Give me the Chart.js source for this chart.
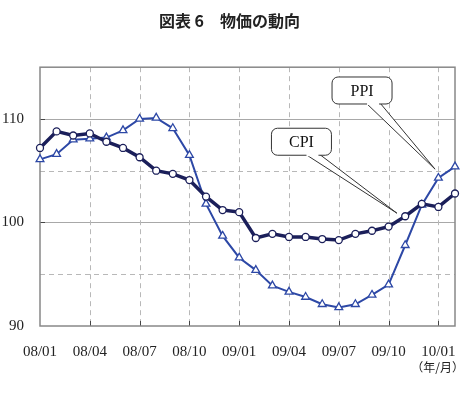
<!DOCTYPE html>
<html>
<head>
<meta charset="utf-8">
<script src="https://cdn.jsdelivr.net/npm/chart.js@4/dist/chart.umd.min.js"></script>
<style>
  html, body { margin: 0; padding: 0; background: #fff; }
  #wrap { width: 472px; height: 401px; }
</style>
</head>
<body>
<div id="wrap"><canvas id="chart1" width="472" height="401"></canvas></div>
<script>
        // months 08/01 .. 10/02
        const months = ['08/01', '08/02', '08/03', '08/04', '08/05', '08/06', '08/07', '08/08', '08/09', '08/10', '08/11', '08/12',
                        '09/01', '09/02', '09/03', '09/04', '09/05', '09/06', '09/07', '09/08', '09/09', '09/10', '09/11', '09/12',
                        '10/01', '10/02'];
        const cpiValues = [107.2, 108.8, 108.4, 108.6, 107.8, 107.2, 106.3, 105.0, 104.7, 104.1, 102.5, 101.2,
                           101.0, 98.5, 98.9, 98.6, 98.6, 98.4, 98.3, 98.9, 99.2, 99.6, 100.6, 101.8,
                           101.5, 102.8];
        const ppiValues = [106.1, 106.6, 108.0, 108.1, 108.2, 108.9, 110.0, 110.1, 109.1, 106.5, 101.8, 98.7,
                           96.6, 95.4, 93.9, 93.3, 92.8, 92.1, 91.8, 92.1, 93.0, 94.0, 97.8, 101.7,
                           104.3, 105.4];
        const yTickLabels = [90, 100, 110];
        const seriesNames = ['CPI', 'PPI'];

        const serif = "'Liberation Serif', 'DejaVu Serif', serif";
        const cjk = "'Noto Sans CJK JP', sans-serif";

        // callouts: box centre and pointer tip in (index, value)
        const callouts = [
            { text: 'CPI', box: [15.75, 107.8], tip: [21.5, 100.9] },
            { text: 'PPI', box: [19.4, 112.75], tip: [23.8, 105.15] }
        ];

        const framePlugin = {   // gridlines, frame and inner ticks
            id: 'frame',
            beforeDatasetsDraw(chart) {
                const ctx = chart.ctx;
                const a = chart.chartArea;
                const xs = chart.scales.x, ys = chart.scales.y;
                ctx.save();
                ctx.lineWidth = 1;
                [95, 100, 105, 110].forEach(v => {
                    const y = Math.round(ys.getPixelForValue(v)) + 0.5;
                    ctx.setLineDash(v % 10 === 0 ? [] : [5, 4]);
                    ctx.strokeStyle = v % 10 === 0 ? '#a8a8a8' : '#b8b8b8';
                    ctx.beginPath(); ctx.moveTo(a.left, y); ctx.lineTo(a.right, y); ctx.stroke();
                });
                ctx.setLineDash([5, 4]);
                ctx.strokeStyle = '#b8b8b8';
                for (let i = 3; i < months.length; i += 3) {
                    const x = Math.round(xs.getPixelForValue(i)) + 0.5;
                    ctx.beginPath(); ctx.moveTo(x, a.top); ctx.lineTo(x, a.bottom); ctx.stroke();
                }
                ctx.setLineDash([]);
                // inner ticks
                ctx.strokeStyle = '#444';
                for (let i = 3; i < months.length; i += 3) {
                    const x = Math.round(xs.getPixelForValue(i)) + 0.5;
                    ctx.beginPath(); ctx.moveTo(x, a.bottom); ctx.lineTo(x, a.bottom - 5); ctx.stroke();
                }
                [100, 110].forEach(v => {
                    const y = Math.round(ys.getPixelForValue(v)) + 0.5;
                    ctx.beginPath(); ctx.moveTo(a.left, y); ctx.lineTo(a.left + 5, y); ctx.stroke();
                });
                // frame
                ctx.strokeStyle = '#888';
                ctx.lineWidth = 1.5;
                ctx.strokeRect(a.left, a.top, a.right - a.left, a.bottom - a.top);
                ctx.restore();
            },
            afterDraw(chart) {
                const ctx = chart.ctx;
                const xs = chart.scales.x, ys = chart.scales.y;
                ctx.save();
                callouts.forEach(c => {
                    const cx = xs.getPixelForValue(c.box[0]), cy = ys.getPixelForValue(c.box[1]);
                    const tx = xs.getPixelForValue(c.tip[0]), ty = ys.getPixelForValue(c.tip[1]);
                    const w = 60, h = 27, r = 6;
                    const x0 = cx - w / 2, y0 = cy - h / 2;
                    // tail
                    const b1 = cx + 4, b2 = cx + 18, by = y0 + h - 1;
                    ctx.fillStyle = '#fff';
                    ctx.strokeStyle = '#333';
                    ctx.lineWidth = 1;
                    ctx.beginPath();
                    ctx.moveTo(b1, by); ctx.lineTo(tx, ty); ctx.lineTo(b2, by); ctx.closePath();
                    ctx.fill();
                    ctx.beginPath();
                    ctx.moveTo(b1, by); ctx.lineTo(tx, ty); ctx.lineTo(b2, by);
                    ctx.stroke();
                    // box
                    ctx.beginPath();
                    ctx.roundRect(x0, y0, w, h, r);
                    ctx.fill();
                    ctx.stroke();
                    ctx.fillStyle = '#fff';
                    ctx.fillRect(b1 + 1, by - 1, b2 - b1 - 2, 3);
                    ctx.fillStyle = '#111';
                    ctx.font = '16px ' + serif;
                    ctx.textAlign = 'center';
                    ctx.textBaseline = 'middle';
                    ctx.fillText(c.text, cx, cy + 1);
                });
                // unit
                ctx.fillStyle = '#222';
                ctx.font = '12px ' + cjk;
                ctx.textAlign = 'right';
                ctx.textBaseline = 'middle';
                ctx.fillText('（年/月）', 464, 367);
                ctx.restore();
            }
        };

        const ctx = document.getElementById('chart1').getContext('2d');
        const chart = new Chart(ctx, {
            type: 'line',
            data: {
                labels: months,
                datasets: [{
                    label: seriesNames[0],
                    data: cpiValues,
                    borderColor: '#1b1f5a',
                    borderWidth: 3.5,
                    pointStyle: 'circle',
                    pointRadius: 3.5,
                    pointBackgroundColor: '#fff',
                    pointBorderColor: '#1b1f5a',
                    pointBorderWidth: 1.3,
                    tension: 0,
                    order: 1
                }, {
                    label: seriesNames[1],
                    data: ppiValues,
                    borderColor: '#2d48a6',
                    borderWidth: 2,
                    pointStyle: 'triangle',
                    pointRadius: 4.5,
                    pointBackgroundColor: '#fff',
                    pointBorderColor: '#2d48a6',
                    pointBorderWidth: 1.3,
                    tension: 0,
                    order: 2
                }]
            },
            options: {
                responsive: false,
                animation: false,
                layout: { padding: { left: 0, right: 13, top: 0, bottom: 0 } },
                plugins: {
                    legend: { display: false },
                    tooltip: { enabled: false },
                    title: {
                        display: true,
                        text: '図表 6　物価の動向',
                        color: '#222',
                        font: { family: cjk, size: 16, weight: 'bold' },
                        padding: { top: 11, bottom: 37 }
                    }
                },
                scales: {
                    x: {
                        type: 'category',
                        offset: false,
                        grid: { display: false, drawTicks: false },
                        border: { display: false },
                        ticks: {
                            autoSkip: false,
                            maxRotation: 0,
                            padding: 17,
                            color: '#222',
                            font: { family: serif, size: 15 },
                            callback: (v, i) => (i % 3 === 0 ? months[i] : '')
                        },
                        afterFit: s => { s.height = 75; }
                    },
                    y: {
                        min: 90,
                        max: 115,
                        grid: { display: false, drawTicks: false },
                        border: { display: false },
                        ticks: {
                            stepSize: 5,
                            padding: 16,
                            color: '#222',
                            font: { family: serif, size: 15 },
                            callback: v => (yTickLabels.includes(v) ? String(v) : '')
                        },
                        afterFit: s => { s.width = 40; }
                    }
                }
            },
            plugins: [framePlugin]
        });
</script>
</body>
</html>
